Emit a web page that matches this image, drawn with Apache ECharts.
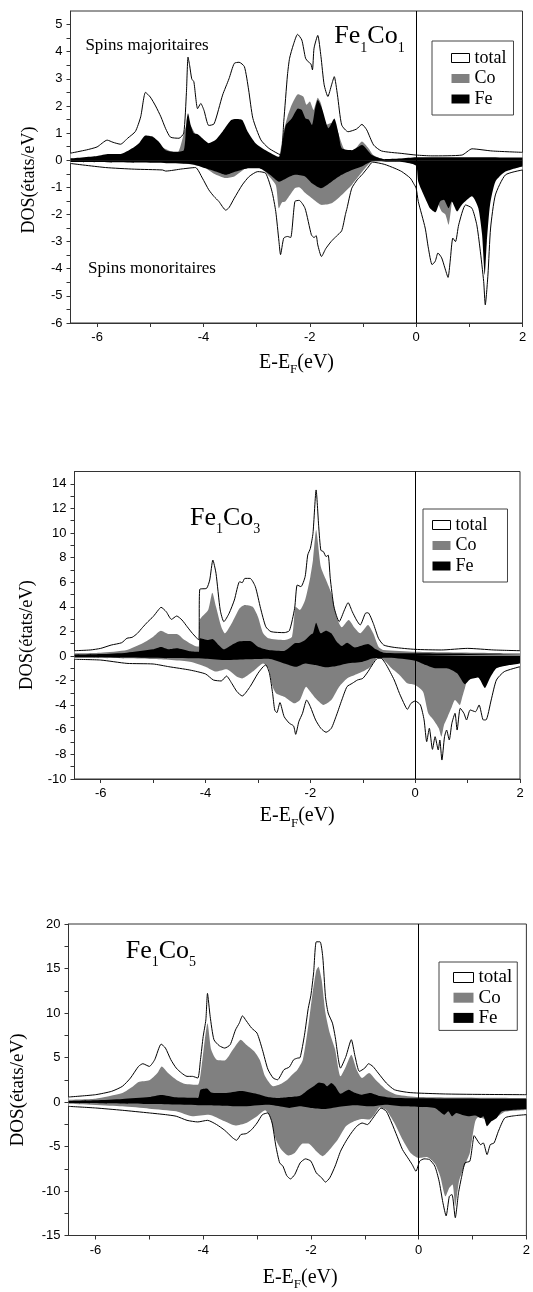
<!DOCTYPE html>
<html>
<head>
<meta charset="utf-8">
<script src="https://cdn.jsdelivr.net/npm/echarts@6.0.0/dist/echarts.min.js"></script>
<style>
  html, body { margin: 0; padding: 0; background: #ffffff; }
  #chart { width: 533px; height: 1292px; }
</style>
</head>
<body>
<div id="chart"></div>
<script>
// Spin-resolved densities of states for Fe1Co1, Fe1Co3 and Fe1Co5.
// Each curve is a list of [E - E_F (eV), DOS (states/eV)] points;
// spin-up values are positive, spin-down values negative.

// ---------- Fe1Co1 ----------
const fe1co1TotalUp = [[-6.5,0.26],[-6.2,0.38],[-6.0,0.49],[-5.81,0.74],[-5.7,0.66],[-5.56,0.59],[-5.42,0.82],[-5.28,1.06],[-5.18,1.6],[-5.09,2.5],[-5.0,2.33],[-4.9,2.0],[-4.8,1.6],[-4.71,1.16],[-4.62,0.85],[-4.46,0.81],[-4.37,1.0],[-4.32,2.5],[-4.29,3.8],[-4.26,3.5],[-4.22,3.0],[-4.18,2.89],[-4.11,1.9],[-4.05,2.09],[-3.99,1.84],[-3.9,1.28],[-3.8,1.34],[-3.64,2.4],[-3.52,3.0],[-3.42,3.57],[-3.33,3.61],[-3.23,3.45],[-3.15,2.59],[-3.07,1.54],[-2.92,0.75],[-2.77,0.44],[-2.55,0.2],[-2.49,1.42],[-2.42,3.14],[-2.38,3.76],[-2.31,4.25],[-2.23,4.64],[-2.15,4.43],[-2.08,3.76],[-2.03,3.63],[-1.98,3.55],[-1.95,3.33],[-1.92,4.13],[-1.85,4.6],[-1.79,3.82],[-1.73,2.78],[-1.66,2.35],[-1.59,2.78],[-1.54,3.08],[-1.48,2.41],[-1.4,1.3],[-1.28,1.05],[-1.12,1.15],[-1.02,1.32],[-0.93,1.12],[-0.8,0.56],[-0.65,0.34],[-0.27,0.25],[0,0.19],[0.3,0.16],[0.86,0.19],[1.05,0.42],[1.43,0.34],[2.0,0.29]];
const fe1co1TotalDown = [[-6.5,-0.12],[-5.84,-0.27],[-5.3,-0.33],[-4.77,-0.36],[-4.71,-0.4],[-4.4,-0.32],[-4.15,-0.27],[-4.02,-0.66],[-3.9,-1.09],[-3.8,-1.34],[-3.71,-1.52],[-3.58,-1.84],[-3.52,-1.75],[-3.42,-1.4],[-3.27,-0.91],[-3.14,-0.6],[-2.98,-0.42],[-2.83,-0.48],[-2.71,-1.16],[-2.64,-1.89],[-2.58,-2.99],[-2.55,-3.48],[-2.49,-2.87],[-2.42,-2.81],[-2.36,-2.85],[-2.28,-1.52],[-2.2,-1.48],[-2.09,-1.77],[-1.97,-2.75],[-1.92,-2.85],[-1.88,-2.78],[-1.85,-3.12],[-1.78,-3.55],[-1.7,-3.26],[-1.6,-3.0],[-1.5,-2.8],[-1.4,-2.6],[-1.33,-2.0],[-1.3,-1.77],[-1.21,-1.03],[-1.1,-0.7],[-1.02,-0.54],[-0.9,-0.25],[-0.82,-0.07],[-0.6,-0.15],[-0.4,-0.3],[-0.27,-0.42],[-0.11,-0.66],[-0.05,-0.85],[0,-1.03],[0.04,-1.52],[0.17,-2.5],[0.23,-3.24],[0.3,-3.85],[0.36,-3.72],[0.41,-3.42],[0.48,-3.6],[0.54,-3.97],[0.6,-4.32],[0.64,-3.72],[0.69,-2.87],[0.74,-3.0],[0.8,-2.38],[0.93,-1.65],[1.05,-1.77],[1.14,-2.38],[1.2,-3.24],[1.27,-4.47],[1.3,-5.33],[1.35,-4.23],[1.4,-2.5],[1.49,-1.28],[1.68,-0.54],[2.0,-0.36]];
const fe1co1CoUp = [[-6.5,0.05],[-6.0,0.12],[-5.5,0.18],[-5.09,0.75],[-4.8,0.5],[-4.5,0.25],[-4.29,1.4],[-4.1,0.8],[-3.9,0.5],[-3.45,1.3],[-3.2,0.9],[-2.9,0.3],[-2.6,0.1],[-2.5,1.0],[-2.42,1.6],[-2.34,2.04],[-2.22,2.43],[-2.12,2.34],[-2.06,2.04],[-2.0,2.16],[-1.93,1.85],[-1.85,2.3],[-1.79,2.09],[-1.7,1.3],[-1.55,1.4],[-1.45,0.9],[-1.35,0.4],[-1.2,0.3],[-1.02,0.69],[-0.9,0.45],[-0.8,0.18],[-0.6,0.03],[0,0.08],[2.0,0.07]];
const fe1co1CoDown = [[-6.5,-0.04],[-4.5,-0.08],[-4.0,-0.25],[-3.8,-0.5],[-3.58,-0.66],[-3.42,-0.6],[-3.2,-0.3],[-2.95,-0.2],[-2.83,-0.45],[-2.64,-0.91],[-2.58,-1.77],[-2.52,-1.55],[-2.46,-1.52],[-2.38,-1.3],[-2.28,-1.03],[-2.2,-1.0],[-2.09,-1.2],[-1.96,-1.4],[-1.77,-1.65],[-1.59,-1.59],[-1.4,-1.28],[-1.21,-0.91],[-0.96,-0.3],[-0.82,-0.04],[-0.5,-0.03],[0,-0.1],[0.04,-0.6],[0.17,-1.2],[0.3,-1.6],[0.4,-1.6],[0.48,-1.89],[0.55,-2.0],[0.61,-2.38],[0.65,-1.9],[0.7,-1.3],[0.8,-1.5],[0.9,-1.3],[1.05,-1.1],[1.2,-1.9],[1.29,-3.0],[1.35,-2.0],[1.45,-0.9],[1.6,-0.4],[2.0,-0.18]];
const fe1co1FeUp = [[-6.5,0.07],[-6.0,0.16],[-5.78,0.23],[-5.56,0.23],[-5.34,0.44],[-5.21,0.63],[-5.09,0.91],[-4.96,0.87],[-4.84,0.68],[-4.71,0.37],[-4.52,0.31],[-4.37,0.37],[-4.32,1.42],[-4.29,1.73],[-4.24,1.3],[-4.18,0.99],[-4.1,0.95],[-4.02,0.81],[-3.9,0.63],[-3.77,0.75],[-3.64,1.06],[-3.48,1.48],[-3.39,1.52],[-3.27,1.48],[-3.17,1.06],[-3.02,0.63],[-2.83,0.37],[-2.58,0.12],[-2.51,0.73],[-2.45,1.3],[-2.34,1.54],[-2.22,1.91],[-2.15,1.85],[-2.08,1.54],[-2.02,1.5],[-1.96,1.3],[-1.9,1.91],[-1.85,2.22],[-1.77,1.91],[-1.68,1.3],[-1.65,1.18],[-1.54,1.54],[-1.46,0.99],[-1.4,0.44],[-1.21,0.37],[-1.02,0.56],[-0.83,0.19],[-0.6,0.04],[-0.3,0.06],[0,0.11],[1.0,0.11],[2.0,0.1]];
const fe1co1FeDown = [[-6.5,-0.07],[-4.7,-0.11],[-4.21,-0.15],[-3.96,-0.3],[-3.77,-0.42],[-3.58,-0.54],[-3.39,-0.42],[-3.14,-0.3],[-2.96,-0.3],[-2.83,-0.42],[-2.71,-0.6],[-2.58,-0.79],[-2.47,-0.7],[-2.28,-0.54],[-2.09,-0.6],[-1.96,-0.85],[-1.79,-1.03],[-1.59,-0.79],[-1.4,-0.54],[-1.21,-0.36],[-1.02,-0.23],[-0.82,-0.04],[-0.5,-0.06],[-0.2,-0.08],[0,-0.2],[0.04,-0.79],[0.17,-1.4],[0.26,-1.77],[0.36,-1.92],[0.45,-1.52],[0.52,-1.46],[0.61,-1.77],[0.67,-1.52],[0.77,-1.89],[0.86,-1.64],[1.05,-1.33],[1.17,-1.77],[1.24,-2.75],[1.29,-4.23],[1.33,-2.99],[1.39,-1.64],[1.49,-0.79],[1.68,-0.42],[2.0,-0.23]];

// ---------- Fe1Co3 ----------
const fe1co3TotalUp = [[-6.5,0.43],[-6.2,0.49],[-6.0,0.62],[-5.8,0.89],[-5.6,1.08],[-5.5,1.44],[-5.4,1.52],[-5.3,1.84],[-5.2,2.33],[-5.1,2.79],[-5.0,3.2],[-4.9,3.74],[-4.85,3.96],[-4.75,3.6],[-4.65,2.98],[-4.55,3.25],[-4.45,2.93],[-4.35,2.38],[-4.25,1.84],[-4.13,1.3],[-4.11,5.42],[-3.98,5.5],[-3.92,6.18],[-3.86,7.8],[-3.8,6.72],[-3.72,3.74],[-3.65,2.79],[-3.55,3.47],[-3.45,4.55],[-3.35,6.04],[-3.3,5.96],[-3.25,6.31],[-3.15,6.31],[-3.05,5.64],[-2.95,3.88],[-2.85,2.38],[-2.75,1.98],[-2.5,1.9],[-2.4,2.06],[-2.3,3.88],[-2.25,5.77],[-2.18,5.64],[-2.1,6.45],[-2.05,8.21],[-2.0,8.75],[-1.95,9.97],[-1.89,13.5],[-1.84,10.5],[-1.8,8.6],[-1.75,8.48],[-1.7,8.08],[-1.66,8.2],[-1.62,6.31],[-1.55,4.0],[-1.45,2.79],[-1.35,3.74],[-1.28,4.34],[-1.2,3.6],[-1.12,2.93],[-1.05,2.52],[-0.95,3.47],[-0.9,3.52],[-0.8,2.66],[-0.7,1.44],[-0.6,0.89],[-0.4,0.7],[0,0.54],[0.5,0.49],[1.0,0.62],[1.5,0.49],[2.0,0.43]];
const fe1co3TotalDown = [[-6.5,-0.27],[-6.0,-0.33],[-5.5,-0.6],[-5.0,-0.65],[-4.7,-0.87],[-4.3,-1.14],[-4.0,-1.46],[-3.85,-1.95],[-3.7,-2.03],[-3.6,-1.63],[-3.5,-2.22],[-3.4,-2.9],[-3.3,-3.25],[-3.15,-2.49],[-3.0,-1.41],[-2.9,-0.87],[-2.85,-0.73],[-2.78,-1.41],[-2.72,-3.04],[-2.68,-4.39],[-2.64,-4.61],[-2.58,-3.79],[-2.5,-4.93],[-2.4,-5.47],[-2.32,-5.69],[-2.28,-6.37],[-2.22,-5.34],[-2.15,-4.66],[-2.07,-3.58],[-2.0,-4.12],[-1.9,-5.2],[-1.8,-5.88],[-1.7,-6.2],[-1.6,-5.88],[-1.5,-4.8],[-1.4,-3.58],[-1.3,-2.49],[-1.2,-2.22],[-1.1,-1.95],[-1.0,-1.82],[-0.9,-1.27],[-0.8,-0.6],[-0.72,-0.19],[-0.65,-0.19],[-0.55,-0.73],[-0.4,-1.95],[-0.3,-3.04],[-0.2,-3.98],[-0.15,-4.34],[-0.08,-3.85],[0,-3.66],[0.1,-3.98],[0.17,-5.2],[0.22,-6.96],[0.27,-5.88],[0.33,-7.59],[0.38,-6.56],[0.44,-7.64],[0.47,-6.83],[0.51,-8.46],[0.56,-6.56],[0.6,-6.02],[0.65,-6.83],[0.7,-5.47],[0.76,-4.66],[0.8,-6.02],[0.86,-4.25],[0.93,-4.66],[0.98,-5.2],[1.05,-4.39],[1.15,-4.53],[1.22,-3.98],[1.3,-5.2],[1.35,-5.2],[1.45,-3.58],[1.55,-1.95],[1.7,-1.27],[2.0,-0.87]];
const fe1co3CoUp = [[-6.5,0.22],[-6.0,0.27],[-5.5,0.49],[-5.2,1.03],[-5.0,1.57],[-4.85,2.06],[-4.7,1.79],[-4.55,1.79],[-4.4,1.3],[-4.2,0.81],[-4.13,0.76],[-4.11,2.93],[-3.95,3.74],[-3.87,5.15],[-3.8,4.0],[-3.7,2.38],[-3.63,1.84],[-3.5,2.66],[-3.35,3.88],[-3.25,4.15],[-3.1,4.0],[-3.0,3.2],[-2.9,1.84],[-2.8,1.44],[-2.5,1.3],[-2.35,1.57],[-2.28,4.0],[-2.2,3.74],[-2.1,4.55],[-2.0,6.45],[-1.95,7.8],[-1.89,10.24],[-1.8,7.26],[-1.7,6.18],[-1.6,5.1],[-1.5,3.2],[-1.4,2.33],[-1.27,2.93],[-1.15,2.25],[-1.05,1.84],[-0.9,2.52],[-0.8,1.84],[-0.7,0.76],[-0.6,0.49],[0,0.35],[2.0,0.22]];
const fe1co3CoDown = [[-6.5,-0.14],[-5.0,-0.24],[-4.3,-0.46],[-4.0,-0.87],[-3.8,-1.27],[-3.6,-1.08],[-3.4,-1.68],[-3.3,-1.82],[-3.1,-1.27],[-2.9,-0.6],[-2.8,-1.0],[-2.72,-2.49],[-2.65,-3.04],[-2.5,-3.31],[-2.3,-3.85],[-2.2,-3.58],[-2.08,-2.49],[-2.0,-2.9],[-1.9,-3.44],[-1.75,-3.98],[-1.6,-3.58],[-1.45,-2.49],[-1.3,-1.82],[-1.15,-1.54],[-1.0,-1.27],[-0.85,-0.87],[-0.72,-0.11],[-0.6,-0.33],[-0.45,-1.0],[-0.3,-1.54],[-0.15,-2.22],[0,-2.36],[0.15,-2.9],[0.25,-4.66],[0.35,-5.2],[0.45,-5.88],[0.5,-6.56],[0.55,-5.61],[0.62,-4.93],[0.7,-4.12],[0.76,-3.58],[0.85,-3.98],[0.9,-3.31],[0.95,-2.6],[1.0,-1.9],[1.1,-1.5],[1.3,-1.7],[1.5,-1.1],[1.6,-0.9],[2.0,-0.55]];
const fe1co3FeUp = [[-6.5,0.11],[-6.0,0.16],[-5.5,0.27],[-5.0,0.54],[-4.85,0.73],[-4.7,0.54],[-4.55,0.62],[-4.3,0.38],[-4.13,0.33],[-4.11,1.44],[-3.95,1.3],[-3.87,1.38],[-3.75,0.89],[-3.65,0.54],[-3.5,0.89],[-3.35,1.19],[-3.15,1.22],[-3.0,0.76],[-2.8,0.49],[-2.5,0.41],[-2.3,1.03],[-2.2,1.08],[-2.1,1.3],[-2.0,1.71],[-1.95,1.84],[-1.89,2.71],[-1.8,1.84],[-1.7,2.06],[-1.6,1.84],[-1.5,1.17],[-1.4,0.81],[-1.3,1.08],[-1.15,0.7],[-0.9,0.98],[-0.75,0.54],[-0.6,0.27],[0,0.22],[2.0,0.16]];
const fe1co3FeDown = [[-6.5,-0.11],[-4.0,-0.22],[-3.6,-0.33],[-3.2,-0.27],[-2.8,-0.22],[-2.5,-0.6],[-2.27,-0.87],[-2.1,-0.6],[-1.9,-0.73],[-1.7,-0.92],[-1.5,-0.81],[-1.3,-0.6],[-1.0,-0.46],[-0.8,-0.19],[-0.5,-0.14],[0,-0.38],[0.2,-0.73],[0.4,-1.0],[0.6,-1.0],[0.8,-1.41],[0.95,-2.3],[1.05,-1.9],[1.2,-1.75],[1.33,-2.6],[1.42,-1.85],[1.55,-1.0],[1.8,-0.73],[2.0,-0.6]];

// ---------- Fe1Co5 ----------
const fe1co5TotalUp = [[-6.5,0.56],[-6.0,0.82],[-5.7,1.2],[-5.5,1.76],[-5.35,2.69],[-5.2,4.0],[-5.12,4.3],[-5.0,4.0],[-4.9,4.75],[-4.78,6.5],[-4.7,6.06],[-4.6,4.75],[-4.5,3.81],[-4.4,3.25],[-4.3,2.88],[-4.2,2.88],[-4.1,2.69],[-4.05,4.75],[-4.0,7.36],[-3.95,9.23],[-3.92,12.2],[-3.87,9.6],[-3.8,7.0],[-3.7,6.32],[-3.6,6.06],[-3.5,6.43],[-3.4,8.1],[-3.33,8.86],[-3.27,9.68],[-3.2,9.12],[-3.1,8.3],[-3.0,7.74],[-2.9,5.87],[-2.8,3.7],[-2.7,2.69],[-2.62,2.5],[-2.5,3.63],[-2.4,3.93],[-2.32,4.75],[-2.25,4.93],[-2.2,5.0],[-2.12,7.5],[-2.05,10.5],[-2.0,12.0],[-1.95,14.5],[-1.9,18.0],[-1.83,18.0],[-1.78,16.3],[-1.73,11.85],[-1.68,10.0],[-1.6,8.86],[-1.55,7.36],[-1.45,3.81],[-1.35,5.12],[-1.25,7.0],[-1.18,5.12],[-1.1,3.44],[-1.0,3.81],[-0.93,4.3],[-0.85,4.0],[-0.75,3.25],[-0.6,2.13],[-0.45,1.38],[-0.2,1.08],[0,1.0],[0.5,0.9],[1.0,0.86],[2.0,0.82]];
const fe1co5TotalDown = [[-6.5,-0.49],[-6.0,-0.67],[-5.5,-0.93],[-5.0,-1.23],[-4.7,-1.42],[-4.5,-1.6],[-4.3,-2.06],[-4.1,-2.24],[-3.92,-2.06],[-3.75,-2.54],[-3.6,-3.18],[-3.45,-4.04],[-3.38,-4.3],[-3.3,-3.66],[-3.2,-3.55],[-3.1,-3.1],[-3.0,-2.36],[-2.9,-1.42],[-2.8,-1.23],[-2.72,-2.36],[-2.65,-4.97],[-2.58,-6.84],[-2.52,-7.2],[-2.45,-8.26],[-2.38,-8.64],[-2.3,-8.15],[-2.2,-6.84],[-2.1,-6.39],[-2.0,-6.65],[-1.9,-7.96],[-1.8,-8.52],[-1.73,-9.0],[-1.65,-8.52],[-1.55,-7.2],[-1.45,-5.53],[-1.35,-4.41],[-1.25,-3.48],[-1.15,-2.73],[-1.05,-2.36],[-0.95,-2.54],[-0.87,-1.98],[-0.78,-1.23],[-0.7,-0.67],[-0.6,-1.05],[-0.5,-2.36],[-0.4,-3.85],[-0.3,-5.35],[-0.2,-6.28],[-0.12,-7.03],[-0.05,-7.78],[0.02,-6.65],[0.1,-6.39],[0.2,-6.47],[0.3,-7.2],[0.38,-8.9],[0.45,-11.3],[0.51,-12.8],[0.57,-10.6],[0.62,-10.4],[0.68,-13.0],[0.74,-10.2],[0.8,-8.34],[0.86,-6.84],[0.95,-6.65],[1.0,-4.79],[1.03,-3.78],[1.1,-4.41],[1.15,-4.79],[1.2,-4.6],[1.27,-5.91],[1.33,-4.79],[1.4,-4.6],[1.48,-3.29],[1.6,-1.79],[1.8,-1.53],[2.0,-1.42]];
const fe1co5CoUp = [[-6.5,0.26],[-6.0,0.37],[-5.5,1.0],[-5.3,1.76],[-5.2,2.24],[-5.0,2.43],[-4.85,3.25],[-4.77,4.0],[-4.65,3.25],[-4.5,2.5],[-4.35,2.06],[-4.1,1.94],[-4.03,4.0],[-3.97,7.0],[-3.92,8.86],[-3.85,5.87],[-3.75,4.75],[-3.6,4.67],[-3.45,5.87],[-3.3,7.0],[-3.2,6.43],[-3.05,5.68],[-2.95,4.75],[-2.85,2.88],[-2.7,1.76],[-2.55,2.06],[-2.45,2.43],[-2.35,3.07],[-2.25,3.63],[-2.15,4.75],[-2.05,8.5],[-1.97,12.2],[-1.9,14.8],[-1.86,15.2],[-1.8,13.7],[-1.73,10.0],[-1.65,7.74],[-1.55,5.87],[-1.45,2.88],[-1.35,4.0],[-1.25,5.31],[-1.15,3.63],[-1.05,2.69],[-0.92,3.25],[-0.8,2.5],[-0.6,1.38],[-0.4,0.82],[0,0.56],[2.0,0.45]];
const fe1co5CoDown = [[-6.5,-0.19],[-5.5,-0.49],[-5.0,-0.75],[-4.5,-1.05],[-4.2,-1.6],[-3.9,-1.42],[-3.6,-2.17],[-3.4,-2.65],[-3.2,-2.36],[-3.0,-1.6],[-2.85,-0.93],[-2.75,-1.79],[-2.65,-4.22],[-2.55,-5.35],[-2.42,-6.02],[-2.3,-5.72],[-2.15,-4.67],[-2.05,-4.67],[-1.9,-5.53],[-1.78,-6.09],[-1.65,-5.35],[-1.5,-4.22],[-1.35,-2.73],[-1.2,-2.17],[-1.05,-1.91],[-0.92,-1.98],[-0.82,-1.42],[-0.72,-0.6],[-0.6,-0.93],[-0.45,-2.36],[-0.3,-4.22],[-0.15,-5.72],[0,-6.28],[0.15,-6.17],[0.3,-6.92],[0.4,-8.34],[0.5,-10.6],[0.57,-9.64],[0.63,-9.27],[0.68,-11.7],[0.75,-8.9],[0.85,-7.2],[0.95,-5.72],[1.0,-3.85],[1.05,-2.2],[1.1,-1.7],[1.3,-2.0],[1.45,-1.7],[1.6,-1.1],[2.0,-0.9]];
const fe1co5FeUp = [[-6.5,0.11],[-6.0,0.19],[-5.5,0.34],[-5.0,0.56],[-4.78,0.79],[-4.5,0.52],[-4.1,0.45],[-4.05,1.38],[-3.93,1.53],[-3.85,1.08],[-3.6,1.0],[-3.3,1.23],[-3.0,0.9],[-2.8,0.56],[-2.6,0.45],[-2.4,0.56],[-2.2,0.71],[-2.05,1.38],[-1.95,1.76],[-1.85,2.2],[-1.75,2.06],[-1.7,1.76],[-1.62,2.13],[-1.55,1.76],[-1.45,0.93],[-1.3,1.38],[-1.2,1.08],[-1.05,0.82],[-0.9,1.0],[-0.75,0.71],[-0.5,0.49],[0,0.41],[2.0,0.34]];
const fe1co5FeDown = [[-6.5,-0.11],[-5.0,-0.22],[-4.0,-0.37],[-3.3,-0.49],[-2.8,-0.3],[-2.5,-0.56],[-2.4,-0.67],[-2.2,-0.49],[-2.0,-0.67],[-1.75,-0.79],[-1.5,-0.56],[-1.2,-0.37],[-0.9,-0.49],[-0.6,-0.3],[-0.3,-0.49],[0,-0.56],[0.3,-0.67],[0.48,-1.42],[0.55,-1.05],[0.62,-1.6],[0.7,-1.23],[0.8,-1.42],[0.95,-1.6],[1.05,-1.53],[1.15,-1.79],[1.2,-1.6],[1.27,-2.73],[1.35,-2.17],[1.45,-1.79],[1.55,-1.05],[2.0,-0.79]];

// ---------- ticks and labels ----------
const energyTicks = [-6, -5, -4, -3, -2, -1, 0, 1, 2];
const energyLabels = [-6, -4, -2, 0, 2];
const dosTicks1 = [-6,-5.5,-5,-4.5,-4,-3.5,-3,-2.5,-2,-1.5,-1,-0.5,0,0.5,1,1.5,2,2.5,3,3.5,4,4.5,5];
const dosLabels1 = [-6,-5,-4,-3,-2,-1,0,1,2,3,4,5];
const dosTicks3 = [-10,-9,-8,-7,-6,-5,-4,-3,-2,-1,0,1,2,3,4,5,6,7,8,9,10,11,12,13,14];
const dosLabels3 = [-10,-8,-6,-4,-2,0,2,4,6,8,10,12,14];
const dosTicks5 = [-15,-12.5,-10,-7.5,-5,-2.5,0,2.5,5,7.5,10,12.5,15,17.5,20];
const dosLabels5 = [-15,-10,-5,0,5,10,15,20];
const legendNames = ['total', 'Co', 'Fe'];

const SERIF_NAME = 'Liberation Serif';
const SERIF = '"Liberation Serif", "Times New Roman", serif';
const SANS = '"Liberation Sans", Arial, sans-serif';
const AXIS_COLOR = '#333';
const CO_GRAY = '#808080';
const MID = 0.3375; // em distance from the canvas 'middle' line down to the baseline

const panels = [
  { grid: { left: 70.5, top: 11, width: 452, height: 312 }, yMin: -6, yMax: 5.5,
    yTicks: dosTicks1, yLabels: dosLabels1,
    curves: [fe1co1TotalUp, fe1co1TotalDown, fe1co1CoUp, fe1co1CoDown, fe1co1FeUp, fe1co1FeDown],
    legend: { left: 432, top: 41, padding: [8, 7, 7, 19], itemWidth: 18, itemHeight: 9, fontSize: 18, gap: 2.5 },
    formula: { x: 334.3, base: 45.3, n: '1', m: '1' },
    yName: { x: 29, y: 180, size: 18 }, xName: { x: 296.5, base: 369.3 } },
  { grid: { left: 74.5, top: 471.5, width: 445.5, height: 307.5 }, yMin: -10, yMax: 15,
    yTicks: dosTicks3, yLabels: dosLabels3,
    curves: [fe1co3TotalUp, fe1co3TotalDown, fe1co3CoUp, fe1co3CoDown, fe1co3FeUp, fe1co3FeDown],
    legend: { left: 423, top: 509, padding: [7, 20, 7, 9], itemWidth: 18, itemHeight: 9, fontSize: 18, gap: 2.5 },
    formula: { x: 190, base: 527, n: '1', m: '3' },
    yName: { x: 27.2, y: 635, size: 18.5 }, xName: { x: 297.3, base: 822.7 } },
  { grid: { left: 68.5, top: 924, width: 463.5, height: 311.5 }, yMin: -15, yMax: 20,
    yTicks: dosTicks5, yLabels: dosLabels5,
    curves: [fe1co5TotalUp, fe1co5TotalDown, fe1co5CoUp, fe1co5CoDown, fe1co5FeUp, fe1co5FeDown],
    legend: { left: 439, top: 962, padding: [6, 5, 3, 14], itemWidth: 20, itemHeight: 10, fontSize: 19, gap: 1.2 },
    formula: { x: 125.7, base: 959.7, n: '1', m: '5' },
    yName: { x: 17.9, y: 1090, size: 19 }, xName: { x: 300.2, base: 1284 } }
];

const legendIcons = {
  total: { color: '#ffffff', borderColor: '#000', borderWidth: 1 },
  Co: { color: CO_GRAY, borderWidth: 0 },
  Fe: { color: '#000000', borderWidth: 0 }
};

// text pieces with a lowered subscript, laid out side by side from measured widths
const measureCtx = document.createElement('canvas').getContext('2d');
function serifWidth(str, size) {
  measureCtx.font = size + 'px "' + SERIF_NAME + '"';
  return measureCtx.measureText(str).width;
}
function pieceRow(parts, x, baseline, align) {
  const widths = parts.map(p => serifWidth(p.t, p.size));
  const total = widths.reduce((a, b) => a + b, 0);
  let cx = align === 'center' ? x - total / 2 : x;
  return parts.map((p, k) => {
    const el = {
      type: 'text', x: cx, y: baseline + (p.drop || 0) - MID * p.size, silent: true, z: 10,
      style: { text: p.t, fontFamily: SERIF, fontSize: p.size, fill: '#000', align: 'left', verticalAlign: 'middle' }
    };
    cx += widths[k];
    return el;
  });
}

const grids = [], xAxes = [], yAxes = [], series = [], legends = [], graphics = [];

panels.forEach((p, i) => {
  grids.push(Object.assign({ show: true, borderColor: AXIS_COLOR, borderWidth: 1, backgroundColor: 'transparent' }, p.grid));

  xAxes.push({
    gridIndex: i, type: 'value', min: -6.5, max: 2,
    axisLine: { show: true, onZero: false, lineStyle: { color: AXIS_COLOR, width: 1 } },
    axisTick: { show: true, inside: false, length: 4, customValues: energyTicks, lineStyle: { color: AXIS_COLOR } },
    axisLabel: { customValues: energyLabels, margin: 8, fontFamily: SANS, fontSize: 13, color: '#000' },
    splitLine: { show: false }
  });
  yAxes.push({
    gridIndex: i, type: 'value', min: p.yMin, max: p.yMax,
    axisLine: { show: true, onZero: false, lineStyle: { color: AXIS_COLOR, width: 1 } },
    axisTick: { show: true, inside: false, length: 4, customValues: p.yTicks, lineStyle: { color: AXIS_COLOR } },
    axisLabel: { customValues: p.yLabels, margin: 8, fontFamily: SANS, fontSize: 13, color: '#000' },
    splitLine: { show: false }
  });

  const base = { type: 'line', xAxisIndex: i, yAxisIndex: i, symbol: 'none', smooth: 0.2, silent: true, animation: false };
  const [tu, td, cu, cd, fu, fd] = p.curves;
  const totalStyle = { lineStyle: { color: '#000', width: 1 }, areaStyle: { color: '#ffffff', opacity: 1 }, itemStyle: { color: '#000' } };
  const coStyle = { lineStyle: { width: 0, color: CO_GRAY }, areaStyle: { color: CO_GRAY, opacity: 1 }, itemStyle: { color: CO_GRAY } };
  const feStyle = { lineStyle: { width: 0, color: '#000' }, areaStyle: { color: '#000', opacity: 1 }, itemStyle: { color: '#000' } };
  series.push(Object.assign({ name: 'total', data: tu }, base, totalStyle));
  series.push(Object.assign({ name: 'total', data: td }, base, totalStyle));
  series.push(Object.assign({ name: 'Co', data: cu }, base, coStyle));
  series.push(Object.assign({ name: 'Co', data: cd }, base, coStyle));
  series.push(Object.assign({ name: 'Fe', data: fu }, base, feStyle));
  series.push(Object.assign({ name: 'Fe', data: fd }, base, feStyle, {
    // Fermi level
    markLine: { silent: true, symbol: 'none', animation: false, label: { show: false },
      lineStyle: { color: '#000', width: 1, type: 'solid' }, data: [{ xAxis: 0 }] }
  }));

  const L = p.legend;
  legends.push({
    left: L.left, top: L.top, orient: 'vertical', padding: L.padding, itemGap: L.gap,
    itemWidth: L.itemWidth, itemHeight: L.itemHeight, selectedMode: false,
    borderColor: '#444', borderWidth: 1, backgroundColor: '#ffffff',
    textStyle: { fontFamily: SERIF, fontSize: L.fontSize, lineHeight: L.fontSize, color: '#000' },
    data: legendNames.map(n => ({ name: n, icon: 'rect', itemStyle: legendIcons[n] }))
  });

  // compound name, e.g. Fe1Co3 with subscripted counts
  const F = p.formula;
  pieceRow([
    { t: 'Fe', size: 26 }, { t: F.n, size: 14, drop: 7.5 },
    { t: 'Co', size: 26 }, { t: F.m, size: 14, drop: 7.5 }
  ], F.x, F.base, 'left').forEach(el => graphics.push(el));

  // axis titles
  graphics.push({
    type: 'text', x: p.yName.x, y: p.yName.y, rotation: Math.PI / 2, silent: true,
    style: { text: 'DOS(états/eV)', fontFamily: SERIF, fontSize: p.yName.size, fill: '#000', align: 'center', verticalAlign: 'middle' }
  });
  pieceRow([
    { t: 'E-E', size: 20 }, { t: 'F', size: 13, drop: 5 }, { t: '(eV)', size: 20 }
  ], p.xName.x, p.xName.base, 'center').forEach(el => graphics.push(el));
});

graphics.push({ type: 'text', x: 147, y: 45.3, silent: true,
  style: { text: 'Spins majoritaires', fontFamily: SERIF, fontSize: 17, fill: '#000', align: 'center', verticalAlign: 'middle' } });
graphics.push({ type: 'text', x: 152, y: 268.6, silent: true,
  style: { text: 'Spins monoritaires', fontFamily: SERIF, fontSize: 17, fill: '#000', align: 'center', verticalAlign: 'middle' } });

const chart = echarts.init(document.getElementById('chart'), null, { renderer: 'canvas' });
chart.setOption({
  animation: false,
  backgroundColor: '#ffffff',
  grid: grids,
  xAxis: xAxes,
  yAxis: yAxes,
  legend: legends,
  series: series,
  graphic: graphics
});
</script>
</body>
</html>
